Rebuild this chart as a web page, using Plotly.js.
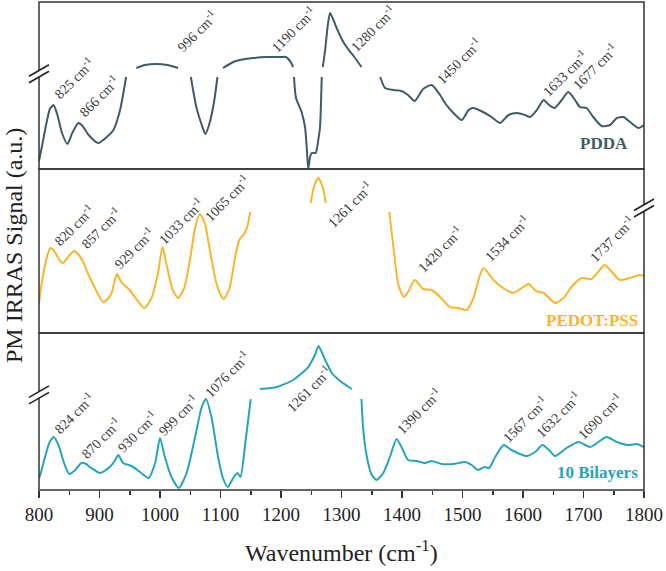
<!DOCTYPE html>
<html>
<head>
<meta charset="utf-8">
<script src="https://cdn.plot.ly/plotly-3.0.1.min.js"></script>
<style>
  html, body { margin: 0; padding: 0; background: #ffffff; }
  #chart { width: 666px; height: 571px; }
</style>
</head>
<body>
<div id="chart"></div>
<script>
// PM-IRRAS spectra (arbitrary units, offset per panel); null marks a break in the trace.

// PDDA
const pddaWavenumber = [800, 806, 812, 818, 824, 830, 838, 847, 855, 865, 872, 882, 898, 912, 923, 934, 944, 952,
  961, 975, 994, 1012, 1030, 1040,
  1051, 1060, 1069, 1075, 1082, 1089, 1095, 1099,
  1104, 1121, 1132, 1154, 1176, 1200, 1208, 1216, 1220, 1220.8,
  1221.5, 1224.8, 1234, 1239.7, 1242.5, 1245, 1248, 1250.7, 1257.3, 1261.6, 1264.5, 1267.3, 1268,
  1269, 1273, 1277, 1281, 1286, 1292, 1298, 1303, 1312, 1320, 1333, 1348,
  1364, 1372, 1386, 1399, 1410, 1421, 1435, 1449, 1463, 1471, 1485, 1499, 1510, 1518, 1534, 1548, 1562,
  1576, 1590, 1603, 1612, 1623, 1634, 1643, 1652, 1664, 1675, 1686, 1694, 1705, 1716, 1730, 1744, 1755,
  1766, 1777, 1791, 1800];
const pddaSignal = [8, 26, 45, 60, 64, 55, 36, 25, 36, 46, 43, 34, 26, 32, 39, 59, 92, null,
  101, 104, 105, 104, 101, null,
  92, 62, 44, 35, 46, 66, 92, null,
  101, 107, 109, 111, 112, 112, 112, 107, 102, null,
  92, 71, 57, 42, 22, 0, 12, 16, 16, 29, 42, 92, null,
  102, 119, 142, 156, 150, 141, 133, 127, 119, 113, 102, null,
  92, 81, 79, 78, 74, 68, 80, 84, 74, 66, 56, 49, 59, 61, 57, 52, 46,
  54, 56, 54, 52, 59, 69, 64, 61, 69, 77, 69, 62, 61, 52, 43, 44, 51,
  52, 47, 41, 44];

// PEDOT:PSS
const pedotWavenumber = [800, 804, 810, 815, 819, 824, 829, 835, 840, 848, 858, 866, 873, 882, 890, 906, 915, 920, 925,
  929, 936, 950, 962, 974, 986, 997, 1004, 1011, 1021, 1030, 1040, 1050, 1058, 1066, 1074, 1083, 1094,
  1105, 1115, 1124, 1131, 1140, 1145, 1149, 1200,
  1249, 1254.5, 1261.5, 1269, 1274, 1320,
  1379, 1386, 1394, 1403, 1410, 1421, 1435, 1449, 1463, 1479, 1493, 1507, 1518, 1529, 1535, 1551, 1567,
  1584, 1598, 1609, 1622, 1634, 1653, 1667, 1680, 1697, 1713, 1724, 1735, 1747, 1760, 1776, 1793, 1800];
const pedotSignal = [30, 48, 68, 80, 85, 83, 78, 72, 70, 76, 82, 78, 71, 58, 48, 31, 35, 40, 52,
  59, 51, 43, 33, 25, 35, 61, 86, 68, 43, 35, 45, 75, 105, 119, 110, 81, 48,
  34, 45, 75, 93, 100, 108, 121, null,
  130, 146, 155, 146, 130, null,
  121, 85, 48, 36, 41, 53, 44, 43, 36, 26, 25, 23, 35, 58, 65, 53, 45,
  40, 45, 49, 42, 40, 30, 35, 46, 55, 54, 61, 68, 61, 53, 55, 58, 57];

// 10 Bilayers
const bilayerWavenumber = [800, 802, 810, 817, 824, 830, 835, 842, 850, 860, 870, 878, 884, 901, 917, 925, 931, 939,
  953, 967, 981, 992, 1000, 1008, 1019, 1031, 1044, 1058, 1069, 1076, 1085, 1096, 1104, 1112, 1121, 1128,
  1133, 1141, 1150, 1157,
  1165, 1193, 1220, 1245, 1256, 1262, 1268, 1273, 1278, 1284, 1292, 1300, 1317, 1325,
  1333, 1336, 1342, 1350, 1358, 1369, 1380, 1391, 1400, 1410, 1424, 1438, 1449, 1466, 1485, 1504, 1515,
  1526, 1536, 1544, 1554, 1568, 1581, 1606, 1620, 1632, 1643, 1653, 1672, 1692, 1711, 1738, 1755, 1774,
  1788, 1800];
const bilayerSignal = [12, 15, 33, 47, 53, 48, 40, 26, 16, 20, 27, 26, 23, 17, 23, 29, 35, 27,
  24, 18, 12, 27, 52, 33, 13, 2, 17, 53, 83, 91, 73, 33, 12, 3, 12, 17,
  13, 47, 91, null,
  101, 103, 110, 123, 135, 144, 137, 130, 124, 117, 112, 108, 101, null,
  91, 60, 33, 15, 10, 17, 33, 51, 42, 30, 29, 27, 29, 26, 26, 28, 25,
  20, 23, 22, 33, 45, 40, 34, 38, 45, 40, 34, 42, 48, 43, 53, 48, 45,
  46, 43];

// Band assignments (cm-1) and where each label sits: [wavenumber, signal]
const pddaBands = ['825', '866', '996', '1190', '1280', '1450', '1633', '1677'];
const pddaBandAt = [[810, 69], [851, 51], [1013, 116], [1169, 116], [1300, 117], [1441, 84], [1617, 72], [1667, 79]];
const pedotBands = ['820', '857', '929', '1033', '1065', '1261', '1420', '1534', '1737'];
const pedotBandAt = [[810, 86], [854, 83], [909, 63], [982, 88], [1058, 111], [1262, 105], [1410, 60], [1521, 71], [1694, 70]];
const bilayerBands = ['824', '870', '930', '999', '1076', '1261', '1390', '1567', '1632', '1690'];
const bilayerBandAt = [[810, 55], [854, 30], [915, 37], [982, 53], [1058, 92], [1193, 77], [1375, 55], [1551, 47], [1606, 52], [1675, 50]];

const xTicks = [800, 900, 1000, 1100, 1200, 1300, 1400, 1500, 1600, 1700, 1800];

const serif = '"Liberation Serif", "Times New Roman", serif';
const colPdda = '#3e5b69';
const colPedot = '#fbb52b';
const colBilayer = '#25a4bc';

function spectrum(x, y, color, yaxis) {
  return {
    x: x, y: y, xaxis: 'x', yaxis: yaxis, type: 'scatter', mode: 'lines',
    connectgaps: false, hoverinfo: 'skip',
    line: { color: color, width: 2, shape: 'spline', smoothing: 0.6 }
  };
}

const data = [
  spectrum(bilayerWavenumber, bilayerSignal, colBilayer, 'y'),
  spectrum(pedotWavenumber, pedotSignal, colPedot, 'y2'),
  spectrum(pddaWavenumber, pddaSignal, colPdda, 'y3')
];

function bandLabels(names, at, yref) {
  return names.map((n, i) => ({
    text: n + ' cm<sup>-1</sup>', x: at[i][0], y: at[i][1], xref: 'x', yref: yref,
    xshift: 2, yshift: -5,
    showarrow: false, textangle: -45, xanchor: 'left', yanchor: 'bottom',
    font: { family: serif, size: 14, color: '#3a3a3a' }
  }));
}

const annotations = [].concat(
  bandLabels(pddaBands, pddaBandAt, 'y3'),
  bandLabels(pedotBands, pedotBandAt, 'y2'),
  bandLabels(bilayerBands, bilayerBandAt, 'y'),
  [
    { text: '<b>PDDA</b>', xref: 'paper', yref: 'paper', x: 1, y: 0.711, xshift: -14,
      xanchor: 'right', yanchor: 'middle', showarrow: false,
      font: { family: serif, size: 17, color: colPdda } },
    { text: '<b>PEDOT:PSS</b>', xref: 'paper', yref: 'paper', x: 1, y: 0.348, xshift: -4,
      xanchor: 'right', yanchor: 'middle', showarrow: false,
      font: { family: serif, size: 17, color: colPedot } },
    { text: '<b>10 Bilayers</b>', xref: 'paper', yref: 'paper', x: 1, y: 0.035, xshift: -4,
      xanchor: 'right', yanchor: 'middle', showarrow: false,
      font: { family: serif, size: 17, color: colBilayer } },
    { text: 'PM IRRAS Signal (a.u.)', xref: 'paper', yref: 'paper', x: 0, y: 0.5, xshift: -25,
      xanchor: 'center', yanchor: 'middle', textangle: -90, showarrow: false,
      font: { family: serif, size: 24, color: '#222' } },
    { text: 'Wavenumber (cm<sup>-1</sup>)', xref: 'paper', yref: 'paper', x: 0.5, y: 0, yshift: -61,
      xanchor: 'center', yanchor: 'middle', showarrow: false,
      font: { family: serif, size: 24, color: '#222' } }
  ]
);

// panel frames
const frame = { color: '#333', width: 1.5 };
const shapes = ['y', 'y2', 'y3'].map(ax => ({
  type: 'rect', xref: 'x domain', yref: ax + ' domain', x0: 0, x1: 1, y0: 0, y1: 1,
  line: frame, fillcolor: 'rgba(0,0,0,0)'
}));

// axis-break marks (//) on the panel edges
function breakMark(xPaper, yPaper) {
  const base = { type: 'line', xref: 'paper', yref: 'paper', xsizemode: 'pixel', ysizemode: 'pixel',
    xanchor: xPaper, yanchor: yPaper };
  return [
    Object.assign({}, base, { x0: -9, y0: -5.5, x1: 9, y1: 5.5, line: { color: '#ffffff', width: 5 } }),
    Object.assign({}, base, { x0: -10, y0: -2.5, x1: 10, y1: 9, line: { color: '#222', width: 1.6 } }),
    Object.assign({}, base, { x0: -10, y0: -9, x1: 10, y1: 2.5, line: { color: '#222', width: 1.6 } })
  ];
}
shapes.push(...breakMark(0, 0.853), ...breakMark(1, 0.578), ...breakMark(0, 0.195));

const layout = {
  width: 666, height: 571,
  margin: { l: 39, r: 22, t: 2, b: 81 },
  paper_bgcolor: '#ffffff', plot_bgcolor: '#ffffff',
  showlegend: false,
  xaxis: {
    domain: [0, 1], anchor: 'y', range: [800, 1800],
    tickvals: xTicks, ticktext: xTicks.map(String),
    ticks: 'outside', ticklen: 7, tickwidth: 1.5, tickcolor: '#333',
    minor: { dtick: 50, tick0: 800, ticks: 'outside', ticklen: 4, tickwidth: 1.5, tickcolor: '#333' },
    showgrid: false, zeroline: false, showline: false,
    tickfont: { family: serif, size: 19, color: '#222' }
  },
  yaxis: { domain: [0, 0.3217], range: [0, 157], visible: false, fixedrange: true },
  yaxis2: { domain: [0.3217, 0.6578], range: [0, 164], visible: false, fixedrange: true },
  yaxis3: { domain: [0.6578, 1], range: [0, 167], visible: false, fixedrange: true },
  annotations: annotations,
  shapes: shapes
};

Plotly.newPlot('chart', data, layout, { displayModeBar: false, staticPlot: true });
</script>
</body>
</html>
